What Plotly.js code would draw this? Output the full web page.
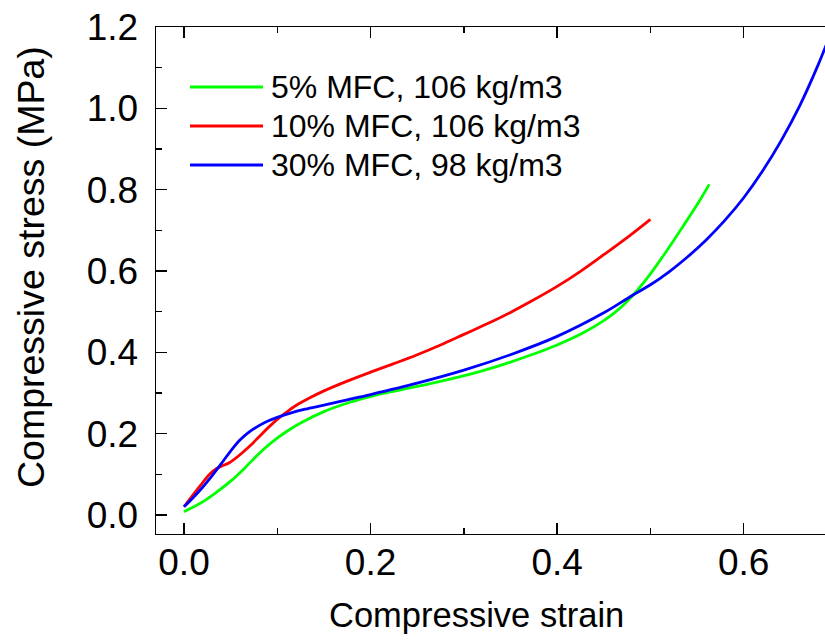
<!DOCTYPE html>
<html>
<head>
<meta charset="utf-8">
<script src="https://cdn.plot.ly/plotly-3.0.1.min.js"></script>
<style>html,body{margin:0;padding:0;overflow:hidden;background:#fff;}</style>
</head>
<body>
<div id="chart"></div>
<script>
// Series names
const seriesNames = ["5% MFC, 106 kg/m3", "10% MFC, 106 kg/m3", "30% MFC, 98 kg/m3"];
const seriesColors = ["#00ff00", "#ff0000", "#0000ff"];

// 5% MFC, 106 kg/m3
const greenStrain = [0, 0.02, 0.035, 0.05, 0.065, 0.08, 0.095, 0.11, 0.125, 0.15, 0.178, 0.205, 0.231, 0.27, 0.313, 0.345, 0.374, 0.4, 0.428, 0.45, 0.463, 0.475, 0.485, 0.5, 0.517, 0.535, 0.553, 0.563];
const greenStress = [0.008, 0.032, 0.056, 0.083, 0.115, 0.15, 0.18, 0.205, 0.226, 0.254, 0.277, 0.294, 0.307, 0.326, 0.35, 0.372, 0.395, 0.418, 0.448, 0.478, 0.5, 0.525, 0.55, 0.593, 0.648, 0.71, 0.774, 0.813];

// 10% MFC, 106 kg/m3
const redStrain = [0, 0.0168, 0.0275, 0.035, 0.049, 0.06, 0.07, 0.08, 0.09, 0.1, 0.11, 0.12, 0.135, 0.15, 0.175, 0.2, 0.225, 0.25, 0.275, 0.3, 0.325, 0.35, 0.375, 0.4, 0.425, 0.45, 0.475, 0.5];
const redStress = [0.02, 0.07, 0.1, 0.114, 0.129, 0.148, 0.168, 0.191, 0.214, 0.235, 0.253, 0.269, 0.288, 0.305, 0.329, 0.351, 0.372, 0.394, 0.418, 0.444, 0.47, 0.498, 0.529, 0.562, 0.599, 0.64, 0.682, 0.727];

// 30% MFC, 98 kg/m3
const blueStrain = [0, 0.01, 0.02, 0.03, 0.04, 0.05, 0.06, 0.07, 0.08, 0.09, 0.1, 0.115, 0.13, 0.15, 0.175, 0.2, 0.25, 0.3, 0.35, 0.4, 0.45, 0.48, 0.5, 0.52, 0.54, 0.56, 0.58, 0.6, 0.62, 0.64, 0.66, 0.68, 0.69];
const blueStress = [0.02, 0.043, 0.068, 0.096, 0.126, 0.157, 0.184, 0.204, 0.219, 0.231, 0.24, 0.251, 0.26, 0.27, 0.283, 0.296, 0.324, 0.356, 0.394, 0.439, 0.497, 0.539, 0.566, 0.598, 0.635, 0.677, 0.725, 0.78, 0.845, 0.92, 1.006, 1.108, 1.165];

const xTicks = [0, 0.2, 0.4, 0.6];
const xTickLabels = ["0.0", "0.2", "0.4", "0.6"];
const yTicks = [0, 0.2, 0.4, 0.6, 0.8, 1.0, 1.2];
const yTickLabels = ["0.0", "0.2", "0.4", "0.6", "0.8", "1.0", "1.2"];
const xTitle = "Compressive strain";
const yTitle = "Compressive stress (MPa)";

const FONT = "Liberation Sans, Arial, Helvetica, sans-serif";
const W = 845, H = 641;
const M = {l: 156, r: 8, t: 27, b: 107};
const pw = W - M.l - M.r, ph = H - M.t - M.b;
const px2x = p => (p - M.l) / pw;
const px2y = p => (H - M.b - p) / ph;

const xs = [greenStrain, redStrain, blueStrain];
const ys = [greenStress, redStress, blueStress];
const traces = xs.map((x, i) => ({
  x: x, y: ys[i], type: "scatter", mode: "lines", name: seriesNames[i],
  line: {color: seriesColors[i], width: 2.8, shape: "spline", smoothing: 1},
  showlegend: false
}));

// Legend drawn as shapes + annotations
const legendRows = [87, 126, 165];
const shapes = legendRows.map((py, i) => ({
  type: "line", xref: "paper", yref: "paper",
  x0: px2x(190), x1: px2x(263), y0: px2y(py), y1: px2y(py),
  line: {color: seriesColors[i], width: 2.8}
}));
const annotations = legendRows.map((py, i) => ({
  xref: "paper", yref: "paper", x: px2x(269), y: px2y(py),
  xanchor: "left", yanchor: "middle", showarrow: false,
  text: seriesNames[i], font: {family: FONT, size: 32, color: "#000"}
}));
// Axis titles (placed as in the reference, which is not centred on the plot)
annotations.push({
  xref: "paper", yref: "paper", x: px2x(476), y: px2y(615),
  xanchor: "center", yanchor: "middle", showarrow: false,
  text: xTitle, font: {family: FONT, size: 34.5, color: "#000"}
});
annotations.push({
  xref: "paper", yref: "paper", x: px2x(31), y: px2y(267),
  xanchor: "center", yanchor: "middle", showarrow: false, textangle: -90,
  text: yTitle, font: {family: FONT, size: 37.5, color: "#000"}
});

const axisCommon = {
  showgrid: false, zeroline: false, showline: true, linecolor: "#000", linewidth: 1.4,
  mirror: "ticks", ticks: "inside", ticklen: 11, tickwidth: 1.4, tickcolor: "#000",
  tickfont: {family: FONT, size: 37, color: "#000"},
  minor: {ticks: "inside", ticklen: 6, tickwidth: 1.4, tickcolor: "#000", showgrid: false}
};

const layout = {
  width: W, height: H, margin: M,
  paper_bgcolor: "#fff", plot_bgcolor: "#fff",
  showlegend: false,
  xaxis: Object.assign({}, axisCommon, {
    range: [-0.03, 0.7], tickvals: xTicks, ticktext: xTickLabels,
    minor: Object.assign({}, axisCommon.minor, {dtick: 0.1, tick0: 0}),
    ticklabelstandoff: -5
  }),
  yaxis: Object.assign({}, axisCommon, {
    range: [-0.047, 1.2], tickvals: yTicks, ticktext: yTickLabels,
    minor: Object.assign({}, axisCommon.minor, {dtick: 0.1, tick0: 0}),
    ticklabelstandoff: 9
  }),
  shapes: shapes,
  annotations: annotations
};

Plotly.newPlot("chart", traces, layout, {displayModeBar: false, staticPlot: true});
</script>
</body>
</html>
